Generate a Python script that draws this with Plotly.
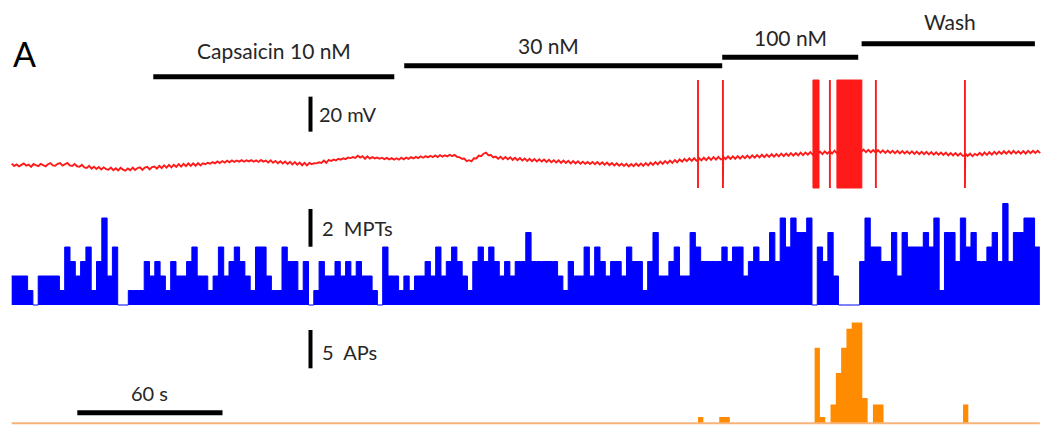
import plotly.graph_objects as go

# ---------------- geometry of the canvas ----------------
W, H = 1049, 425
T0_PX = 11.7          # pixel where t = 0 s
PX_PER_S = 2.42       # horizontal scale (60 s bar = 145 px)

# ---------------- data ----------------
BIN_S = 2.19          # histogram bin width (s)

# MPT counts per bin (blue histogram)
mpt_counts = [
    2, 2, 2, 1, 0, 2, 2, 2, 2, 1, 4, 3, 2, 3, 4, 1, 3, 6, 2, 4, 0, 0, 1, 1, 1,
    3, 2, 3, 2, 1, 3, 2, 2, 3, 4, 2, 2, 1, 2, 4, 2, 3, 4, 3, 2, 1, 4, 4,
    2, 1, 1, 4, 3, 3, 1, 3, 0,
    1, 3, 2, 2, 3, 2, 3, 2, 3, 2, 2, 1, 0,
    4, 2, 2, 1, 2, 1, 2, 2, 3, 2, 4, 2, 3, 4, 3, 2, 1, 3, 4, 3, 4, 3, 2, 3, 2, 3, 3,
    5, 3, 3, 3, 3, 3, 2, 1, 3, 2, 2, 4, 2, 4, 3, 2, 3, 3, 2, 4, 3, 3, 1, 3, 5,
    2, 2, 3, 4, 2, 2, 5, 4, 3, 3, 3, 3, 4, 3, 4, 4, 2, 3, 4, 3, 3, 5, 3, 6,
    4, 6, 5, 5, 6, 0, 4, 3, 5, 2, 0, 0, 0, 0, 3, 6, 4, 4, 3, 3, 5, 2, 5, 4,
    4, 4, 5, 4, 6, 1, 5, 5, 3, 6, 4, 5, 3, 3, 4, 5, 3, 7, 3, 5, 5, 6, 6, 4,
]

# AP counts (orange histogram): bin index -> count
AP_OFFSET_S = 1.1
ap_bins = [129, 133, 134, 151, 152, 154, 155, 156, 157, 158, 159, 160, 162, 163, 179]
ap_counts = [1, 1, 1, 12, 1, 3, 8, 12, 15, 16, 16, 4, 3, 3, 3]

# membrane potential (mV), one sample per second
VM_DT = 1.0
vm = [
    -62.1, -63.4, -62.5, -63.6, -62.8, -61.9, -63.2, -62.6, -63.9, -62.3, -63.0, -63.5, -62.2, -62.9, -63.6, -62.4, -61.8, -63.1, -63.3, -62.2,
    -61.8, -63.2, -62.4, -61.7, -63.1, -63.4, -62.3, -63.6, -63.9, -62.8, -64.2, -64.5, -63.3, -64.9, -63.8, -65.1, -64.0, -65.4, -64.2, -65.2,
    -65.6, -64.3, -65.8, -64.7, -66.0, -64.5, -65.5, -66.1, -64.8, -65.9, -64.4, -65.7, -64.6, -64.2, -65.6, -64.3, -63.9, -65.4, -64.1, -63.7,
    -64.9, -63.3, -64.6, -63.1, -64.4, -62.8, -64.2, -62.7, -63.9, -62.4, -63.8, -62.2, -63.5, -62.0, -63.4, -61.9, -63.3, -61.8, -63.1, -61.9,
    -62.4, -61.6, -62.1, -61.2, -61.9, -60.8, -61.7, -60.6, -61.5, -60.4, -61.3, -60.2, -61.1, -60.3, -60.9, -60.1, -61.0, -60.2, -60.8, -60.1,
    -61.0, -60.2, -61.1, -60.0, -60.9, -60.3, -61.4, -60.2, -61.6, -60.5, -61.8, -60.7, -62.0, -60.9, -62.2, -61.0, -62.5, -61.2, -62.7, -61.5,
    -63.0, -61.6, -63.1, -61.7, -62.4, -61.8, -61.9, -61.3, -61.7, -60.3, -61.6, -60.0, -60.6, -59.8, -60.2, -59.3, -59.8, -59.0, -59.5, -58.6,
    -58.9, -58.3, -58.8, -57.6, -58.6, -57.8, -59.3, -57.9, -59.2, -58.4, -59.1, -58.6, -59.3, -58.7, -59.5, -58.8, -59.6, -58.9, -59.8, -59.0,
    -59.8, -58.7, -59.6, -58.6, -59.3, -58.4, -59.1, -58.2, -58.9, -57.9, -58.7, -57.8, -58.5, -57.6, -58.4, -57.4, -58.3, -57.2, -58.1, -57.3,
    -57.9, -57.0, -57.8, -57.1, -58.2, -58.4, -59.3, -59.2, -60.6, -60.1, -60.8, -59.0, -59.1, -57.5, -57.8, -56.4, -55.8, -57.3, -57.2, -58.5,
    -58.0, -59.3, -58.1, -59.5, -58.3, -59.6, -58.5, -59.9, -58.7, -60.1, -58.9, -60.3, -59.1, -60.5, -59.3, -60.7, -59.5, -60.8, -59.6, -60.9,
    -59.7, -61.1, -59.9, -61.3, -60.1, -61.4, -60.2, -61.6, -60.3, -61.7, -60.5, -61.9, -60.6, -62.0, -60.8, -62.1, -61.0, -62.2, -61.1, -62.3,
    -61.1, -62.4, -61.2, -62.5, -61.3, -62.7, -61.5, -62.9, -61.7, -63.1, -61.9, -63.3, -62.1, -63.4, -62.2, -63.6, -62.3, -63.5, -62.1, -63.4,
    -62.0, -63.3, -61.8, -63.1, -61.5, -62.8, -61.2, -62.5, -60.9, -62.2, -60.6, -61.9, -60.3, -61.6, -60.0, -61.3, -59.7, -61.0, -59.4, -60.7,
    -59.1, -60.5, -59.0, -60.4, -58.8, -60.2, -58.7, -60.1, -58.5, -59.9, -58.4, -59.8, -58.2, -59.6, -58.1, -59.5, -58.0, -59.4, -57.9, -59.3,
    -57.8, -59.2, -57.7, -59.0, -57.5, -58.9, -57.3, -58.7, -57.2, -58.5, -57.0, -58.4, -56.9, -58.2, -56.7, -58.1, -56.6, -57.9, -56.4, -57.8,
    -56.3, -57.6, -56.1, -57.5, -56.0, -57.3, -55.8, -57.2, -55.7, -57.0, -55.5, -56.9, -55.4, -56.7, -55.2, -56.6, -55.1, -56.4, -54.9, -56.3,
    -54.7, -56.1, -54.5, -55.9, -54.3, -55.7, -54.2, -55.6, -54.1, -55.5, -54.0, -55.4, -54.1, -55.5, -54.2, -55.6, -54.3, -55.7, -54.4, -55.8,
    -54.5, -55.9, -54.6, -56.0, -54.7, -56.1, -54.8, -56.2, -54.9, -56.3, -55.0, -56.4, -55.1, -56.5, -55.2, -56.6, -55.3, -56.7, -55.4, -56.8,
    -55.5, -56.9, -55.6, -57.0, -55.7, -57.1, -55.8, -57.3, -56.0, -57.4, -56.1, -57.5, -56.2, -57.6, -56.3, -57.7, -56.4, -57.8, -56.5, -57.3,
    -55.9, -57.3, -55.7, -57.1, -55.5, -56.9, -55.3, -56.7, -55.2, -56.5, -55.0, -56.4, -54.9, -56.3, -54.8, -56.2, -55.0, -56.4, -54.9, -56.3,
    -54.8, -56.1, -54.7, -56.0, -54.8, -56.1,
]
spike_times = [283.6, 293.9, 338.1, 357.1, 393.9]
burst_start = [331.1, 341.0]
burst_end = [333.6, 351.3]
SPIKE_PEAK = -14.3
SPIKE_TROUGH = -76.0

drug_labels = ["Capsaicin 10 nM", "30 nM", "100 nM", "Wash"]
drug_start = [58.5, 162.2, 293.6, 351.2]
drug_end = [158.1, 293.6, 349.8, 422.8]

scale_time_s = 60
scale_mv = 20
scale_mpt = 2
scale_ap = 5

# ---------------- helpers ----------------
def t_of_px(px):
    return (px - T0_PX) / PX_PER_S

def yp(px):
    return 1 - px / H

# axis ranges chosen so that each panel sits at its pixel place
VM_REF, VM_REF_PX, VM_PX_PER_MV = -60.0, 160.0, 1.75
MPT_BASE_PX, MPT_PX = 305.0, 14.5
AP_BASE_PX, AP_PX = 423.3, 6.3

vm_range = [VM_REF - (H - VM_REF_PX) / VM_PX_PER_MV, VM_REF + VM_REF_PX / VM_PX_PER_MV]
mpt_range = [-(H - MPT_BASE_PX) / MPT_PX, MPT_BASE_PX / MPT_PX]
ap_range = [-(H - AP_BASE_PX) / AP_PX, AP_BASE_PX / AP_PX]

RED = "#ff1a1a"
fig = go.Figure()

# --- red membrane trace with spikes inserted ---
events = [(i * VM_DT, v) for i, v in enumerate(vm)]
for ts in spike_times:
    events.append((ts, None))
events.sort(key=lambda e: e[0])
xs, ys = [], []
prev = vm[0]
for t, val in events:
    if val is None:
        xs += [t, t, t, t]
        ys += [prev, SPIKE_PEAK, SPIKE_TROUGH, prev]
    else:
        xs.append(t)
        ys.append(val)
        prev = val
fig.add_trace(go.Scatter(x=xs, y=ys, mode="lines", yaxis="y",
                         line=dict(color=RED, width=1.9), hoverinfo="skip"))
for s, e in zip(burst_start, burst_end):
    fig.add_trace(go.Scatter(x=[s, e, e, s, s],
                             y=[SPIKE_TROUGH, SPIKE_TROUGH, SPIKE_PEAK, SPIKE_PEAK, SPIKE_TROUGH],
                             mode="lines", fill="toself", fillcolor=RED,
                             line=dict(color=RED, width=1), yaxis="y", hoverinfo="skip"))

# --- blue MPT histogram (step fill) ---
n = len(mpt_counts)
edges = [i * BIN_S for i in range(n + 1)]
fig.add_trace(go.Scatter(x=edges, y=mpt_counts + [mpt_counts[-1]], mode="lines",
                         line=dict(shape="hv", color="#0000ff", width=1),
                         fill="tozeroy", fillcolor="#0000ff", yaxis="y2", hoverinfo="skip"))

# --- orange AP histogram ---
ap_full = [0] * n
for b, c in zip(ap_bins, ap_counts):
    ap_full[b] = c
ap_edges = [AP_OFFSET_S + i * BIN_S for i in range(n + 1)]
fig.add_trace(go.Scatter(x=ap_edges, y=ap_full + [ap_full[-1]], mode="lines",
                         line=dict(shape="hv", color="rgba(255,140,0,0)", width=0),
                         fill="tozeroy", fillcolor="#ff8c00", yaxis="y3", hoverinfo="skip"))

shapes = []
annotations = []
# orange baseline
shapes.append(dict(type="line", xref="x", yref="y3", x0=0, x1=edges[-1], y0=0, y1=0,
                   line=dict(color="#f6b37a", width=2)))

# drug bars and labels
bar_y_px = [76.7, 65.7, 57.3, 43.7]
lab_y_px = [50.5, 45.5, 37.5, 21.5]
lab_dx_px = [0, -15, 0, 2]
for lab, s, e, by, ly, dx in zip(drug_labels, drug_start, drug_end, bar_y_px, lab_y_px, lab_dx_px):
    shapes.append(dict(type="line", xref="x", yref="paper", x0=s, x1=e, y0=yp(by), y1=yp(by),
                       line=dict(color="black", width=5)))
    annotations.append(dict(x=(s + e) / 2 + dx / PX_PER_S, y=yp(ly), xref="x", yref="paper",
                            text=lab, showarrow=False, xanchor="center", yanchor="middle",
                            font=dict(family="Lato", size=21, color="#262626")))

# panel letter
annotations.append(dict(x=11 / W, y=yp(53), xref="paper", yref="paper", text="A",
                        showarrow=False, xanchor="left", yanchor="middle",
                        font=dict(family="Lato", size=34, color="black")))

# vertical scale bars
sb_x = t_of_px(310.5)
vm_bar_bottom = -43.8
shapes.append(dict(type="line", xref="x", yref="y", x0=sb_x, x1=sb_x,
                   y0=vm_bar_bottom, y1=vm_bar_bottom + scale_mv, line=dict(color="black", width=4)))
mpt_bar_bottom = 4.02
mpt_bar_len_drawn = 2.6
shapes.append(dict(type="line", xref="x", yref="y2", x0=sb_x, x1=sb_x,
                   y0=mpt_bar_bottom, y1=mpt_bar_bottom + mpt_bar_len_drawn, line=dict(color="black", width=4)))
ap_bar_bottom = 8.73
ap_bar_len_drawn = 6.08
shapes.append(dict(type="line", xref="x", yref="y3", x0=sb_x, x1=sb_x,
                   y0=ap_bar_bottom, y1=ap_bar_bottom + ap_bar_len_drawn, line=dict(color="black", width=4)))

lab_font = dict(family="Lato", size=20, color="#262626")
annotations.append(dict(x=317 / W, y=yp(114), xref="paper", yref="paper",
                        text=f"{scale_mv} mV", showarrow=False, xanchor="left", yanchor="middle", font=lab_font))
annotations.append(dict(x=320 / W, y=yp(228), xref="paper", yref="paper",
                        text=f"{scale_mpt}\u00a0 MPTs", showarrow=False, xanchor="left", yanchor="middle", font=lab_font))
annotations.append(dict(x=320 / W, y=yp(352), xref="paper", yref="paper",
                        text=f"{scale_ap}\u00a0 APs", showarrow=False, xanchor="left", yanchor="middle", font=lab_font))

# time scale bar
ts0 = t_of_px(77.3)
shapes.append(dict(type="line", xref="x", yref="paper", x0=ts0, x1=ts0 + scale_time_s,
                   y0=yp(412.7), y1=yp(412.7), line=dict(color="black", width=5)))
annotations.append(dict(x=ts0 + scale_time_s / 2, y=yp(393), xref="x", yref="paper",
                        text=f"{scale_time_s} s", showarrow=False, xanchor="center", yanchor="middle", font=lab_font))

ax_off = dict(visible=False, showgrid=False, zeroline=False, fixedrange=True)
fig.update_layout(
    width=W, height=H, autosize=False,
    margin=dict(l=0, r=0, t=0, b=0, pad=0),
    paper_bgcolor="white", plot_bgcolor="white",
    showlegend=False,
    xaxis=dict(range=[t_of_px(0), t_of_px(W)], **ax_off),
    yaxis=dict(range=vm_range, domain=[0, 1], **ax_off),
    yaxis2=dict(range=mpt_range, overlaying="y", **ax_off),
    yaxis3=dict(range=ap_range, overlaying="y", **ax_off),
    shapes=shapes, annotations=annotations,
)

fig.write_html("out.html")
